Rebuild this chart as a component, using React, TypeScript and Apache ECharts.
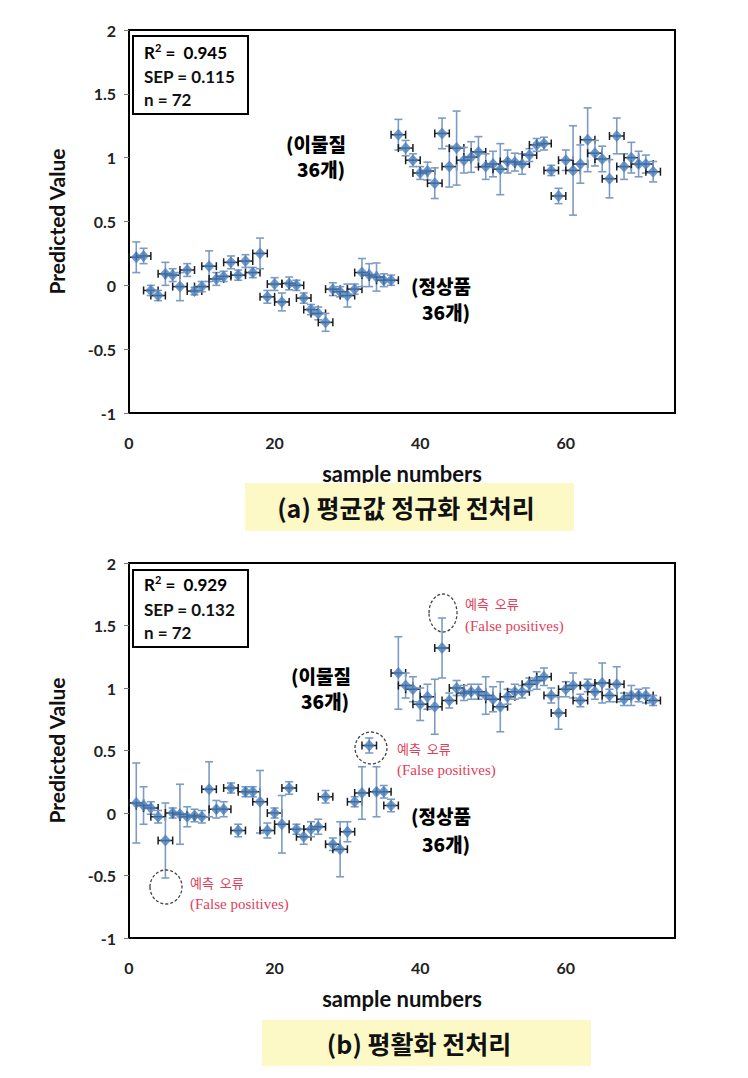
import React, { useEffect, useRef } from "react";
import * as echarts from "echarts";

// ---------- data ----------
const X_ERR = 1; // horizontal error (sample numbers)
const xTickLabels = ["0", "20", "40", "60"];
const yTickLabels = ["-1", "-0.5", "0", "0.5", "1", "1.5", "2"];

// (a) mean-normalisation preprocessing
const topValues = [
  0.22, 0.23, -0.04, -0.08, 0.09, 0.08, -0.01, 0.12, -0.045, -0.01,
  0.15, 0.05, 0.07, 0.18, 0.08, 0.19, 0.1, 0.25, -0.09, 0.01,
  -0.13, 0.015, 0.0, -0.1, -0.19, -0.22, -0.29, -0.03, -0.05, -0.08,
  -0.03, 0.1, 0.08, 0.065, 0.04, 0.04,
  1.18, 1.075, 0.98, 0.88, 0.895, 0.8, 1.19, 0.93, 1.075, 0.98,
  1.005, 1.045, 0.93, 0.95, 0.91, 0.97, 0.965, 0.95, 1.02, 1.1,
  1.11, 0.9, 0.7, 0.98, 0.9, 0.95, 1.14, 1.035, 0.99, 0.835,
  1.17, 0.93, 1.0, 0.95, 0.95, 0.89,
];
const topYErr = [
  0.12, 0.06, 0.04, 0.04, 0.09, 0.05, 0.11, 0.05, 0.03, 0.04,
  0.12, 0.05, 0.04, 0.05, 0.04, 0.05, 0.04, 0.12, 0.05, 0.05,
  0.07, 0.05, 0.04, 0.04, 0.04, 0.05, 0.07, 0.05, 0.04, 0.09,
  0.04, 0.11, 0.09, 0.11, 0.05, 0.04,
  0.12, 0.06, 0.05, 0.05, 0.07, 0.12, 0.12, 0.16, 0.29, 0.1,
  0.12, 0.12, 0.1, 0.1, 0.2, 0.09, 0.07, 0.08, 0.05, 0.05,
  0.05, 0.04, 0.06, 0.08, 0.35, 0.15, 0.25, 0.1, 0.1, 0.15,
  0.14, 0.1, 0.12, 0.1, 0.07, 0.08,
];

// (b) smoothing preprocessing
const bottomValues = [
  0.08, 0.06, 0.04, -0.03, -0.22, 0.0, -0.01, -0.03, -0.02, -0.03,
  0.19, 0.03, 0.03, 0.2, -0.14, 0.17, 0.17, 0.09, -0.14, 0.0,
  -0.09, 0.2, -0.13, -0.19, -0.13, -0.11, 0.13, -0.25, -0.29, -0.15,
  0.09, 0.16, 0.54, 0.17, 0.17, 0.06,
  1.12, 1.02, 0.99, 0.87, 0.93, 0.85, 1.32, 0.9, 1.0, 0.96,
  0.97, 0.97, 0.94, 0.91, 0.85, 0.93, 0.97, 0.97, 1.03, 1.06,
  1.09, 0.94, 0.8, 0.99, 1.02, 0.9, 1.02, 0.97, 1.04, 0.94,
  1.03, 0.91, 0.94, 0.94, 0.94, 0.9,
];
const bottomYErr = [
  0.32, 0.15, 0.05, 0.05, 0.3, 0.04, 0.24, 0.08, 0.05, 0.05,
  0.22, 0.07, 0.06, 0.04, 0.05, 0.04, 0.04, 0.25, 0.06, 0.04,
  0.23, 0.05, 0.04, 0.06, 0.06, 0.06, 0.05, 0.05, 0.22, 0.08,
  0.04, 0.21, 0.06, 0.2, 0.05, 0.05,
  0.29, 0.1, 0.1, 0.13, 0.1, 0.22, 0.24, 0.06, 0.06, 0.06,
  0.06, 0.06, 0.15, 0.1, 0.2, 0.06, 0.06, 0.05, 0.05, 0.07,
  0.07, 0.06, 0.13, 0.06, 0.1, 0.05, 0.05, 0.06, 0.16, 0.05,
  0.14, 0.05, 0.08, 0.05, 0.06, 0.04,
];

const topStats = { r2: "0.945", sep: "0.115", n: "72" };
const bottomStats = { r2: "0.929", sep: "0.132", n: "72" };
const captionA = "(a) 평균값 정규화 전처리";
const captionB = "(b) 평활화 전처리";

// ---------- helpers ----------
const build = (vals: number[], errs: number[]) =>
  vals.map((v, i) => [i + 1, v, X_ERR, errs[i]]);

const errorBarRender = (_params: any, api: any) => {
  const x = api.value(0);
  const y = api.value(1);
  const ex = api.value(2);
  const ey = api.value(3);
  const t = api.coord([x, y + ey]);
  const b = api.coord([x, y - ey]);
  const l = api.coord([x - ex, y]);
  const r = api.coord([x + ex, y]);
  const vs = { stroke: "#7d9cc4", lineWidth: 1.6 };
  const hs = { stroke: "#1c1c1c", lineWidth: 1.5 };
  const cap = 4;
  return {
    type: "group",
    children: [
      { type: "line", shape: { x1: t[0], y1: t[1], x2: b[0], y2: b[1] }, style: vs },
      { type: "line", shape: { x1: t[0] - cap, y1: t[1], x2: t[0] + cap, y2: t[1] }, style: vs },
      { type: "line", shape: { x1: b[0] - cap, y1: b[1], x2: b[0] + cap, y2: b[1] }, style: vs },
      { type: "line", shape: { x1: l[0], y1: l[1], x2: r[0], y2: r[1] }, style: hs },
      { type: "line", shape: { x1: l[0], y1: l[1] - cap, x2: l[0], y2: l[1] + cap }, style: hs },
      { type: "line", shape: { x1: r[0], y1: r[1] - cap, x2: r[0], y2: r[1] + cap }, style: hs },
    ],
  };
};

const FONT = "Lato, 'Noto Sans', sans-serif";
const KFONT = "'Noto Sans CJK KR', sans-serif";

const xAxisCfg = (gridIndex: number) => ({
  gridIndex,
  type: "value",
  min: 0,
  max: 75,
  interval: 20,
  axisLine: { show: false },
  axisTick: { show: false },
  splitLine: { show: false },
  axisLabel: {
    margin: 21,
    showMaxLabel: false,
    fontSize: 16,
    fontWeight: "bold",
    color: "#222",
    fontFamily: FONT,
    formatter: (v: number) => (xTickLabels.includes(String(v)) ? String(v) : ""),
  },
  name: "sample numbers",
  nameLocation: "middle",
  nameGap: 49,
  nameTextStyle: { fontSize: 22, fontWeight: "bold", color: "#111", fontFamily: FONT },
});

const yAxisCfg = (gridIndex: number) => ({
  gridIndex,
  type: "value",
  min: -1,
  max: 2,
  interval: 0.5,
  axisLine: { show: true, lineStyle: { color: "#000", width: 2 } },
  axisTick: { show: true, length: 5, lineStyle: { color: "#777" } },
  splitLine: { show: false },
  axisLabel: {
    margin: 13,
    fontSize: 16,
    fontWeight: "bold",
    color: "#222",
    fontFamily: FONT,
    formatter: (v: number) => (yTickLabels.includes(String(v)) ? String(v) : ""),
  },
  name: "Predicted Value",
  nameLocation: "middle",
  nameGap: 62,
  nameRotate: 90,
  nameTextStyle: { fontSize: 21, fontWeight: "bold", color: "#111", fontFamily: FONT },
});

const statsBox = (x: number, y: number, h: number, s: { r2: string; sep: string; n: string }, lineYs: number[]) => {
  const base = { fontSize: 17, fontWeight: "bold", fill: "#111", fontFamily: FONT };
  return [
    { type: "rect", shape: { x, y, width: 115, height: h }, style: { fill: "#fff", stroke: "#000", lineWidth: 2 }, z: 10 },
    {
      type: "text", x: x + 11, y: lineYs[0], z: 11,
      style: {
        text: "{a|R}{s|2}{a| =  " + s.r2 + "}",
        verticalAlign: "middle",
        rich: {
          a: { fontSize: 17, fontWeight: "bold", color: "#111", fontFamily: FONT },
          s: { fontSize: 11, fontWeight: "bold", color: "#111", fontFamily: FONT, verticalAlign: "top", padding: [0, 0, 9, 0] },
        },
      },
    },
    { type: "text", x: x + 11, y: lineYs[1], z: 11, style: { ...base, text: "SEP = " + s.sep, verticalAlign: "middle" } },
    { type: "text", x: x + 11, y: lineYs[2], z: 11, style: { ...base, text: "n = " + s.n, verticalAlign: "middle" } },
  ];
};

const boldK = (text: string, x: number, y: number) => ({
  type: "text", x, y, z: 12,
  style: { text, fontSize: 19, fontWeight: 900, fill: "#000", fontFamily: KFONT, verticalAlign: "middle" },
});

const redNote = (cx: number, cy: number, rx: number, ry: number, tx: number, ty1: number, ty2: number) => [
  { type: "ellipse", shape: { cx, cy, rx, ry }, style: { fill: "none", stroke: "#444", lineWidth: 1.3, lineDash: [3, 2] }, z: 12 },
  { type: "text", x: tx, y: ty1, z: 12, style: { text: "예측  오류", fontSize: 13, fill: "#e0405a", fontFamily: KFONT, verticalAlign: "middle" } },
  { type: "text", x: tx, y: ty2, z: 12, style: { text: "(False positives)", fontSize: 15, fill: "#e0405a", fontFamily: "'Liberation Serif', serif", verticalAlign: "middle" } },
];

const caption = (x: number, y: number, w: number, h: number, text: string, cx: number) => [
  { type: "rect", shape: { x, y, width: w, height: h }, style: { fill: "#fcf9c6" }, z: 1 },
  {
    type: "text", x: cx, y: y + h / 2, z: 2,
    style: { text, fontSize: 25, fontWeight: "bold", fill: "#111", fontFamily: KFONT, align: "center", verticalAlign: "middle" },
  },
];

export default function App() {
  const ref = useRef<HTMLDivElement>(null);

  useEffect(() => {
    if (!ref.current) return;
    const chart = echarts.init(ref.current, undefined, { renderer: "svg" });
    const topData = build(topValues, topYErr);
    const bottomData = build(bottomValues, bottomYErr);

    const option: any = {
      animation: false,
      backgroundColor: "#fff",
      grid: [
        { left: 129, top: 30, width: 546, height: 383, show: true, borderColor: "#000", borderWidth: 2, backgroundColor: "#fff" },
        { left: 129, top: 563, width: 546, height: 375, show: true, borderColor: "#000", borderWidth: 2, backgroundColor: "#fff" },
      ],
      xAxis: [xAxisCfg(0), xAxisCfg(1)],
      yAxis: [yAxisCfg(0), yAxisCfg(1)],
      series: [
        { type: "custom", xAxisIndex: 0, yAxisIndex: 0, renderItem: errorBarRender, data: topData, z: 2, encode: { x: 0, y: 1 } },
        { type: "scatter", xAxisIndex: 0, yAxisIndex: 0, symbol: "diamond", symbolSize: [11, 12], itemStyle: { color: "#4a7ebb" }, data: topData.map((d) => [d[0], d[1]]), z: 3 },
        { type: "custom", xAxisIndex: 1, yAxisIndex: 1, renderItem: errorBarRender, data: bottomData, z: 2, encode: { x: 0, y: 1 } },
        { type: "scatter", xAxisIndex: 1, yAxisIndex: 1, symbol: "diamond", symbolSize: [11, 12], itemStyle: { color: "#4a7ebb" }, data: bottomData.map((d) => [d[0], d[1]]), z: 3 },
      ],
      graphic: {
        elements: [
          ...statsBox(133, 36, 78, topStats, [52, 76, 99]),
          ...statsBox(133, 570, 77, bottomStats, [584, 609, 632]),
          boldK("(이물질", 286, 143),
          boldK("36개)", 297, 168),
          boldK("(정상품", 411, 285),
          boldK("36개)", 422, 311),
          boldK("(이물질", 291, 675),
          boldK("36개)", 301, 700),
          boldK("(정상품", 411, 815),
          boldK("36개)", 422, 843),
          ...redNote(443, 613, 14, 19, 465, 603, 626),
          ...redNote(371, 748, 16, 16, 397, 748, 770),
          ...redNote(166, 887, 16, 17, 190, 882, 904),
          ...caption(245, 483, 329, 48, captionA, 406),
          ...caption(262, 1020, 329, 46, captionB, 419),
        ],
      },
    };
    chart.setOption(option);
    return () => chart.dispose();
  }, []);

  return (
    <div
      ref={ref}
      style={{ position: "absolute", left: 0, top: 0, width: 748, height: 1078, background: "#fff" }}
    />
  );
}
